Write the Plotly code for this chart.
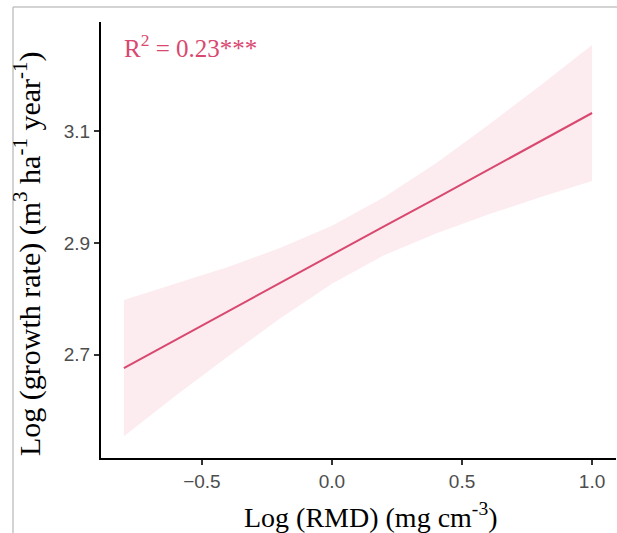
import plotly.graph_objects as go

# Data
rmd_x = [-0.8, -0.6, -0.4, -0.2, 0.0, 0.2, 0.4, 0.6, 0.8, 1.0]
fit_y = [2.676, 2.727, 2.777, 2.828, 2.879, 2.930, 2.980, 3.031, 3.082, 3.133]
upper_y = [2.798, 2.827, 2.857, 2.891, 2.931, 2.982, 3.043, 3.111, 3.182, 3.255]
lower_y = [2.554, 2.627, 2.697, 2.765, 2.827, 2.878, 2.917, 2.951, 2.982, 3.011]
x_ticks = [-0.5, 0.0, 0.5, 1.0]
x_ticklabels = ["\u22120.5", "0.0", "0.5", "1.0"]
y_ticks = [2.7, 2.9, 3.1]
y_ticklabels = ["2.7", "2.9", "3.1"]

LINE = "#d9486f"
BAND = "rgba(248,210,216,0.42)"

fig = go.Figure()
fig.add_trace(go.Scatter(x=rmd_x, y=lower_y, mode="lines", line=dict(width=0),
                         hoverinfo="skip", showlegend=False))
fig.add_trace(go.Scatter(x=rmd_x, y=upper_y, mode="lines", line=dict(width=0),
                         fill="tonexty", fillcolor=BAND, hoverinfo="skip", showlegend=False))
fig.add_trace(go.Scatter(x=rmd_x, y=fit_y, mode="lines", line=dict(color=LINE, width=2),
                         showlegend=False))

L, R, T, B = 101, 1, 22, 75
W, H = 617, 533
pw, ph = W - L - R, H - T - B

def px(xp):
    return (xp - L) / pw

def py(yp):
    return (H - B - yp) / ph

tickfont = dict(family="Liberation Sans, Arial", size=19, color="#4d4d4d")
fig.update_layout(
    width=W, height=H,
    margin=dict(l=L, r=R, t=T, b=B, pad=0),
    plot_bgcolor="white", paper_bgcolor="white",
    xaxis=dict(range=[-0.888, 1.092], tickvals=x_ticks, ticktext=x_ticklabels,
               showgrid=False, zeroline=False, showline=True, linecolor="black", linewidth=2,
               ticks="outside", ticklen=5, tickwidth=1.5, tickcolor="#333333",
               tickfont=tickfont),
    yaxis=dict(range=[2.515, 3.296], tickvals=y_ticks, ticktext=y_ticklabels,
               showgrid=False, zeroline=False, showline=True, linecolor="black", linewidth=2,
               ticks="outside", ticklen=5, tickwidth=1.5, tickcolor="#333333",
               tickfont=tickfont),
    annotations=[
        dict(text="Log (RMD) (mg cm<sup>-3</sup>)", xref="paper", yref="paper",
             x=px(371), y=py(515), showarrow=False, xanchor="center", yanchor="middle",
             font=dict(family="Liberation Serif, Times New Roman", size=28, color="black")),
        dict(text="Log (growth rate) (m<sup>3</sup> ha<sup>-1</sup> year<sup>-1</sup>)",
             xref="paper", yref="paper", x=px(28), y=py(254), textangle=-90,
             showarrow=False, xanchor="center", yanchor="middle",
             font=dict(family="Liberation Serif, Times New Roman", size=30, color="black")),
        dict(text="R<sup>2</sup> = 0.23***", xref="paper", yref="paper",
             x=px(122), y=py(46), showarrow=False, xanchor="left", yanchor="middle",
             font=dict(family="Liberation Serif, Times New Roman", size=25, color=LINE)),
    ],
    shapes=[
        dict(type="line", xref="paper", yref="paper", x0=px(13), x1=px(617), y0=py(7), y1=py(7),
             line=dict(color="#c4c4c4", width=1.5)),
        dict(type="line", xref="paper", yref="paper", x0=px(13), x1=px(13), y0=py(7), y1=py(533),
             line=dict(color="#c4c4c4", width=1.5)),
    ],
)

fig.write_html("out.html")
